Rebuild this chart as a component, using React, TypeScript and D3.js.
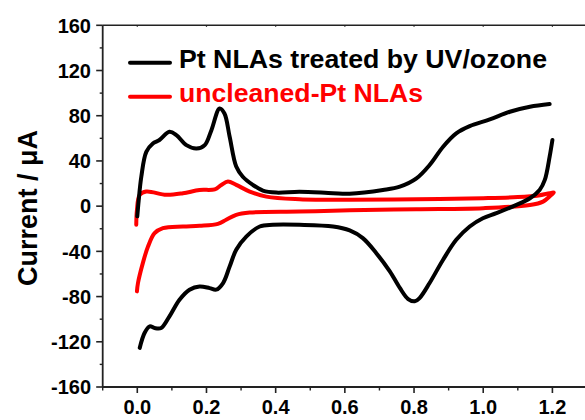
import React from "react";
import * as d3 from "d3";

// Black: Pt NLAs treated by UV/ozone — forward (anodic) scan
const blackFwdV = [0.0, 0.004, 0.0116, 0.026, 0.045, 0.064, 0.093, 0.113, 0.142, 0.171, 0.195, 0.214, 0.238, 0.252, 0.267, 0.286, 0.305, 0.334, 0.363, 0.402, 0.469, 0.566, 0.614, 0.71, 0.759, 0.807, 0.845, 0.884, 0.922, 0.961, 1.019, 1.077, 1.135, 1.192];
const blackFwdI = [-9, 5, 26, 48, 55.5, 58.5, 65.8, 62.9, 54, 51, 54, 67, 86.4, 82, 61.4, 35, 26, 18.8, 13.8, 12, 12.8, 11.4, 11, 14.3, 17.3, 24.6, 36.4, 52.6, 64.4, 70.8, 76.7, 83.5, 87.9, 90.3];
// Black: reverse (cathodic) scan
const blackRevV = [1.2, 1.192, 1.178, 1.163, 1.135, 1.096, 1.038, 0.999, 0.961, 0.922, 0.884, 0.845, 0.816, 0.802, 0.783, 0.759, 0.73, 0.691, 0.652, 0.614, 0.566, 0.469, 0.392, 0.354, 0.315, 0.286, 0.267, 0.248, 0.228, 0.209, 0.18, 0.151, 0.122, 0.093, 0.069, 0.05, 0.036, 0.021, 0.007];
const blackRevI = [58.5, 43.8, 23.2, 14.3, 7, 1.1, -6.2, -10.7, -18, -29.8, -47.4, -68, -81.3, -84.2, -82.2, -72.4, -57.7, -41.6, -28.3, -21.5, -18, -16.5, -16.5, -18, -26.9, -38.6, -53.4, -68, -73.9, -72.5, -71, -73.9, -82.8, -97.5, -107.8, -107.8, -106.3, -112.2, -125.4];

// Red: uncleaned-Pt NLAs — full loop
const redV = [-0.003, -0.001, 0.007, 0.026, 0.084, 0.132, 0.18, 0.224, 0.243, 0.262, 0.286, 0.325, 0.373, 0.469, 0.614, 0.807, 1.0, 1.1, 1.16, 1.192, 1.204, 1.195, 1.173, 1.135, 1.0, 0.807, 0.614, 0.469, 0.325, 0.286, 0.257, 0.233, 0.18, 0.132, 0.074, 0.05, 0.031, 0.016, 0.002, -0.001];
const redI = [-16.5, -3.3, 10, 12.9, 10, 11.4, 14.3, 14.9, 18.8, 21.7, 18.8, 12.9, 8.4, 6.1, 5.6, 6, 7, 8, 9.5, 11.5, 12, 9.5, 4, 1, -1.8, -2.7, -3.6, -4.8, -5.7, -7.7, -12.1, -15.7, -17.4, -18, -19.5, -23.9, -35.7, -50.4, -68, -75.4];

const xTicks = [0.0, 0.2, 0.4, 0.6, 0.8, 1.0, 1.2];
const xMinor = [-0.1, 0.1, 0.3, 0.5, 0.7, 0.9, 1.1];
const yTicks = [-160, -120, -80, -40, 0, 40, 80, 120, 160];
const yMinor = [-140, -100, -60, -20, 20, 60, 100, 140];

const legendLabels = ["Pt NLAs treated by UV/ozone", "uncleaned-Pt NLAs"];
const legendColors = ["#000000", "#ff0000"];

const FONT = "'Liberation Sans', Arial, sans-serif";

export default function App() {
  const W = 585, H = 420;
  const left = 102.7, right = 587, top = 25.3, bottom = 387;
  const x = d3.scaleLinear().domain([-0.1, 1.3]).range([left, right]);
  const y = d3.scaleLinear().domain([-160, 160]).range([bottom, top]);

  const line = d3
    .line<[number, number]>()
    .x((d) => x(d[0]))
    .y((d) => y(d[1]))
    .curve(d3.curveCatmullRom.alpha(0.5));

  const zip = (a: number[], b: number[]) => a.map((v, i) => [v, b[i]] as [number, number]);

  return (
    <svg width={W} height={H} style={{ position: "absolute", left: 0, top: 0, background: "#fff" }}>
      <rect x={0} y={0} width={W} height={H} fill="#fff" />
      {/* curves */}
      <path d={line(zip(redV, redI)) || ""} fill="none" stroke="#ff0000" strokeWidth={4} strokeLinejoin="round" strokeLinecap="round" />
      <path d={line(zip(blackFwdV, blackFwdI)) || ""} fill="none" stroke="#000" strokeWidth={4} strokeLinejoin="round" strokeLinecap="round" />
      <path d={line(zip(blackRevV, blackRevI)) || ""} fill="none" stroke="#000" strokeWidth={4} strokeLinejoin="round" strokeLinecap="round" />

      {/* axes frame */}
      <line x1={left} x2={left} y1={top} y2={bottom} stroke="#222" strokeWidth={1.8} />
      <line x1={left} x2={right} y1={bottom} y2={bottom} stroke="#222" strokeWidth={1.8} />
      <line x1={left} x2={right} y1={top} y2={top} stroke="#222" strokeWidth={1.5} />

      {/* y ticks */}
      {yTicks.map((t) => (
        <g key={"y" + t}>
          <line x1={left - 6.5} x2={left} y1={y(t)} y2={y(t)} stroke="#222" strokeWidth={1.6} />
          <text x={91} y={y(t)} dy="0.36em" textAnchor="end" fontFamily={FONT} fontWeight="bold" fontSize={20} fill="#000">
            {t}
          </text>
        </g>
      ))}
      {yMinor.map((t) => (
        <line key={"ym" + t} x1={left - 3} x2={left} y1={y(t)} y2={y(t)} stroke="#222" strokeWidth={1.4} />
      ))}

      {/* x ticks */}
      {xTicks.map((t) => (
        <g key={"x" + t}>
          <line x1={x(t)} x2={x(t)} y1={bottom} y2={bottom + 6} stroke="#222" strokeWidth={1.6} />
          <line x1={x(t)} x2={x(t)} y1={top} y2={top + 1.5} stroke="#222" strokeWidth={1.2} />
          <text x={x(t)} y={414} textAnchor="middle" fontFamily={FONT} fontWeight="bold" fontSize={20} fill="#000">
            {t.toFixed(1)}
          </text>
        </g>
      ))}
      {xMinor.map((t) => (
        <line key={"xm" + t} x1={x(t)} x2={x(t)} y1={bottom} y2={bottom + 3.5} stroke="#222" strokeWidth={1.4} />
      ))}

      {/* y axis title */}
      <text
        transform={`translate(36.5, 208) rotate(-90)`}
        textAnchor="middle"
        fontFamily={FONT}
        fontWeight="bold"
        fontSize={27}
        fill="#000"
      >
        Current / μA
      </text>

      {/* legend */}
      {legendLabels.map((lab, i) => (
        <g key={lab}>
          <line x1={130} x2={170} y1={62.7 + i * 34} y2={62.7 + i * 34} stroke={legendColors[i]} strokeWidth={4} strokeLinecap="round" />
          <text
            x={179}
            y={67.7 + i * 34}
            fontFamily={FONT}
            fontWeight="bold"
            fontSize={26}
            fill={legendColors[i]}
            textLength={i === 0 ? 368 : 244}
            lengthAdjust="spacingAndGlyphs"
          >
            {lab}
          </text>
        </g>
      ))}
    </svg>
  );
}
